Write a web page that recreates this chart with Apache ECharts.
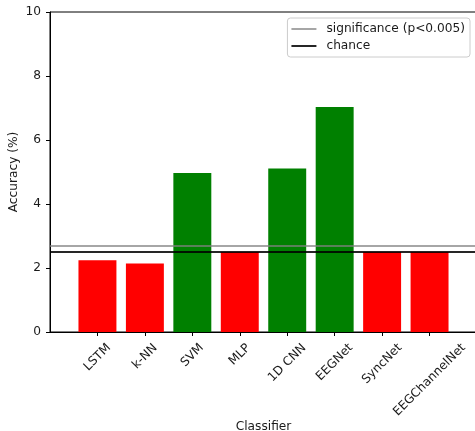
<!DOCTYPE html>
<html><head><meta charset="utf-8">
<script src="https://cdn.jsdelivr.net/npm/echarts@6/dist/echarts.min.js"></script>
<style>html,body{margin:0;padding:0;background:#fff}#c{width:475px;height:431px}</style>
</head><body><div id="c"></div>
<script>
// ---- data ----
const categories = ['LSTM', 'k-NN', 'SVM', 'MLP', '1D CNN', 'EEGNet', 'SyncNet', 'EEGChannelNet'];
const accuracy = [2.24, 2.14, 4.97, 2.5, 5.11, 7.03, 2.5, 2.5];
const significanceLevel = 2.69;
const chanceLevel = 2.5;
const yTicks = [0, 2, 4, 6, 8, 10];
const seriesNames = ['significance (p<0.005)', 'chance'];

// ---- build ----
const FONT_FAMILY = '"DejaVu Sans", sans-serif';
const FONT_SIZE = 12.2;
const LINE_H = 14;
const TEXT_COLOR = '#1a1a1a';
const padCats = ['_start', ...categories, '_end'];
const lastIdx = padCats.length - 1;

const ctx = document.createElement('canvas').getContext('2d');
ctx.font = FONT_SIZE + 'px ' + FONT_FAMILY;
const rich = {};
categories.forEach((c, i) => {
  const L = ctx.measureText(c).width;
  const s2 = (L + LINE_H) / 2;
  rich['c' + i] = {
    fontFamily: FONT_FAMILY, fontSize: FONT_SIZE, color: TEXT_COLOR,
    lineHeight: LINE_H, padding: [s2, s2, 0, 0]
  };
});

const barData = [null, ...accuracy.map(v => ({
  value: v,
  itemStyle: { color: v > significanceLevel ? '#008000' : '#ff0000' }
})), null];

const chart = echarts.init(document.getElementById('c'), null, { renderer: 'canvas' });
chart.setOption({
  animation: false,
  backgroundColor: '#fff',
  textStyle: { fontFamily: FONT_FAMILY },
  grid: {
    left: 50, top: 12, width: 427, height: 320,
    outerBoundsMode: 'none', containLabel: false,
    show: true, borderColor: '#000', borderWidth: 1, backgroundColor: 'transparent'
  },
  legend: {
    orient: 'vertical', right: 5, top: 18, selectedMode: false,
    data: seriesNames, icon: 'rect', itemWidth: 25, itemHeight: 2, itemGap: 5,
    padding: [5, 5, 5, 4],
    backgroundColor: 'rgba(255,255,255,0.85)', borderColor: '#ccc', borderWidth: 1, borderRadius: 3,
    textStyle: { fontFamily: FONT_FAMILY, fontSize: FONT_SIZE, color: TEXT_COLOR, padding: [0, 0, 0, 5] }
  },
  xAxis: {
    type: 'category', data: padCats, boundaryGap: false,
    axisLine: { show: true, lineStyle: { color: '#000', width: 1 } },
    axisTick: { show: true, length: 4, interval: (i) => i > 0 && i < lastIdx, lineStyle: { color: '#000' } },
    axisLabel: {
      interval: 0, rotate: 45, align: 'center', verticalAlign: 'middle', margin: 9, rich,
      formatter: (val, idx) => (idx === 0 || idx === lastIdx) ? '' : '{c' + (idx - 1) + '|' + val + '}'
    },
    splitLine: { show: false },
    name: 'Classifier', nameLocation: 'middle', nameGap: 89, nameMoveOverlap: false,
    nameTextStyle: { fontFamily: FONT_FAMILY, fontSize: FONT_SIZE, color: TEXT_COLOR }
  },
  yAxis: {
    type: 'value', min: yTicks[0], max: yTicks[yTicks.length - 1], interval: yTicks[1] - yTicks[0],
    axisLine: { show: true, lineStyle: { color: '#000', width: 1 } },
    axisTick: { show: true, length: 4, lineStyle: { color: '#000' } },
    axisLabel: { fontFamily: FONT_FAMILY, fontSize: FONT_SIZE, color: TEXT_COLOR, margin: 9 },
    splitLine: { show: false },
    name: 'Accuracy (%)', nameLocation: 'middle', nameGap: 30, nameRotate: 90, nameMoveOverlap: false,
    nameTextStyle: { fontFamily: FONT_FAMILY, fontSize: FONT_SIZE, color: TEXT_COLOR }
  },
  series: [
    { type: 'bar', name: 'accuracy', data: barData, barWidth: '80%', z: 2 },
    {
      type: 'line', name: seriesNames[0], data: [[0, significanceLevel], [lastIdx, significanceLevel]],
      symbol: 'none', z: 5,
      itemStyle: { color: 'rgba(128,128,128,0.7)' },
      lineStyle: { color: 'rgba(128,128,128,0.7)', width: 2 }
    },
    {
      type: 'line', name: seriesNames[1], data: [[0, chanceLevel], [lastIdx, chanceLevel]],
      symbol: 'none', z: 6,
      itemStyle: { color: 'rgba(0,0,0,0.85)' },
      lineStyle: { color: 'rgba(0,0,0,0.85)', width: 2 }
    }
  ]
});
</script></body></html>
